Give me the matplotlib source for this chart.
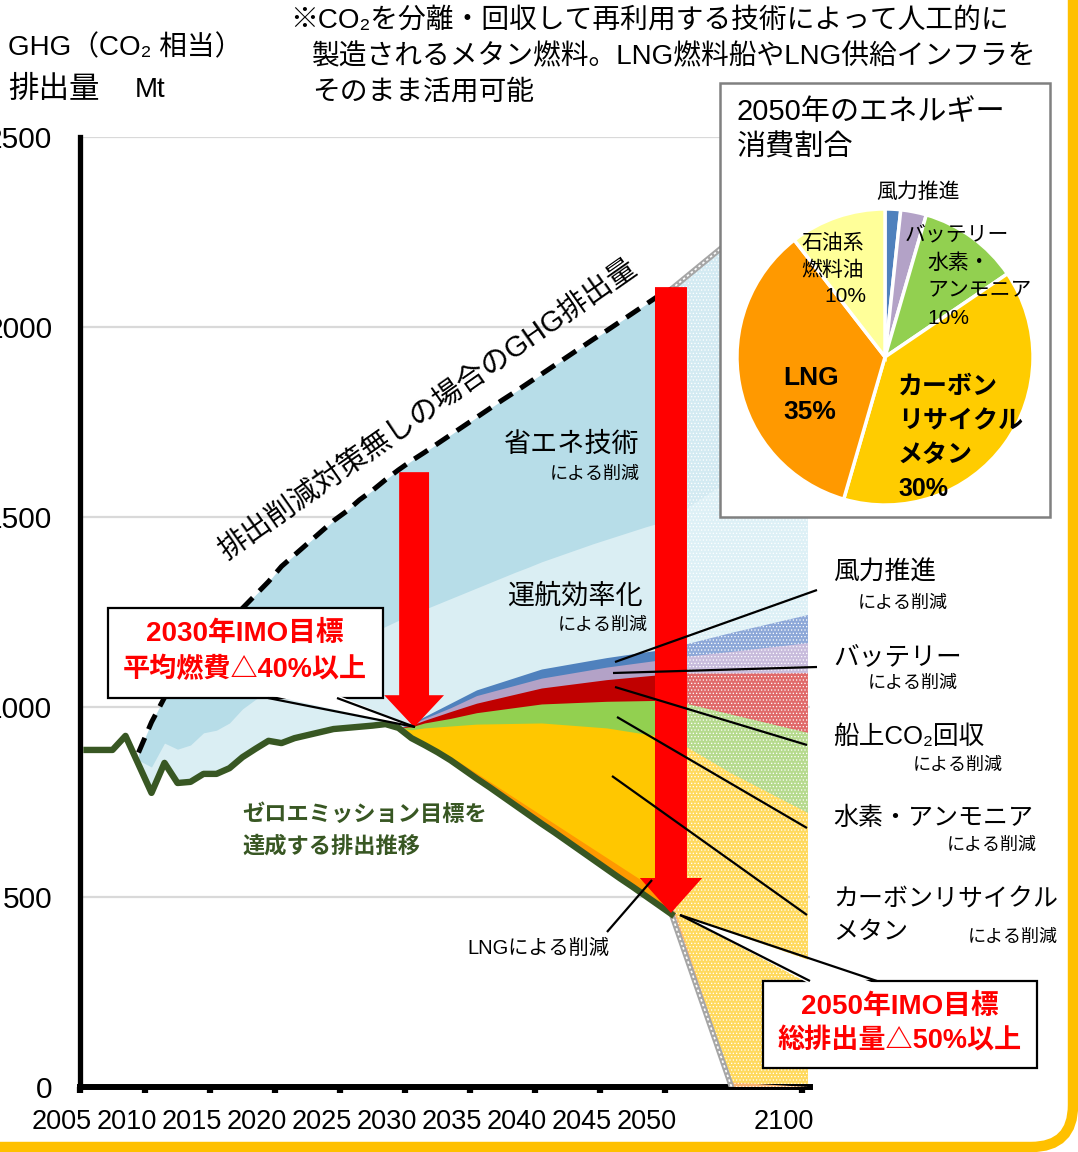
import numpy as np
import matplotlib
matplotlib.use('Agg')
import matplotlib.pyplot as plt
from matplotlib.lines import Line2D
from matplotlib.patches import Rectangle, Polygon, FancyArrow, FancyBboxPatch
from matplotlib.transforms import ScaledTranslation, IdentityTransform

W, H = 1078, 1152
MIX = ['Liberation Sans', 'Noto Sans CJK JP', 'DejaVu Sans']
plt.rcParams['font.family'] = MIX
plt.rcParams['hatch.linewidth'] = 0.5

# ---- data (GHG, Mt CO2-eq) ----
years = list(range(2005, 2051))
zero_path = [887, 887, 887, 924, 849, 774, 853, 800, 803, 824,
             824, 839, 868, 890, 911, 905, 918, 926, 934, 942,
             945, 948, 951, 955, 945, 918, 900, 881, 860, 836,
             812, 789, 765, 741, 717, 693, 670, 646, 622, 598,
             574, 550, 527, 503, 479, 455]

bau_years = list(range(2009, 2051))
bau = [880, 960, 1025, 1075, 1115, 1155, 1190, 1225, 1260, 1295,
       1330, 1370, 1400, 1430, 1460, 1490, 1515, 1545, 1570, 1598,
       1624, 1648, 1670, 1693, 1716, 1739, 1762, 1785, 1808, 1830,
       1853, 1876, 1899, 1922, 1945, 1968, 1990, 2013, 2036, 2059,
       2082, 2100]
# upper edge of the 運航効率化 band (below it: operations, above it: 省エネ技術)
ops_upper = [860, 842, 905, 889, 900, 932, 939, 958, 995, 1020,
             1042, 1060, 1080, 1100, 1120, 1140, 1160, 1178, 1195, 1212,
             1228, 1243, 1257, 1271, 1285, 1299, 1313, 1327, 1341, 1355,
             1368, 1382, 1394, 1406, 1418, 1430, 1441, 1452, 1463, 1474,
             1484, 1495]

layer_years = [2029, 2030, 2031, 2033, 2035, 2040, 2045, 2050]
wind_upper = [945, 958, 975, 1010, 1045, 1100, 1130, 1155]
bat_upper = [945, 955, 970, 998, 1030, 1076, 1105, 1128]
ccs_upper = [945, 952, 965, 988, 1010, 1050, 1072, 1088]
h2_upper = [945, 948, 958, 970, 985, 1008, 1015, 1018]
cr_upper = [945, 940, 945, 950, 955, 958, 945, 918]
lng_upper = [945, 921, 906, 870, 826, 715, 604, 493]

post_years = [2050, 2072, 2100]
post_zero = [455, 0, 0]
post_lng = [493, 12, 0]
post_cr = [918, 825, 721]
post_h2 = [1018, 980, 932]
post_ccs = [1088, 1088, 1089]
post_bat = [1128, 1145, 1168]
post_wind = [1155, 1195, 1242]
post_ops = [1495, 1600, 1750]
post_bau = [2100, 2230, 2400]

tick_years = [2005, 2010, 2015, 2020, 2025, 2030, 2035, 2040, 2045, 2050, 2100]

pie_share = [1.7, 2.8, 11, 39, 35, 10.5]
pie_colors = ['#4F81BD', '#B3A2C7', '#92D050', '#FFCC00', '#FF9900', '#FFFF99']

C_SAVE, C_OPS = '#B7DDE8', '#DAEEF3'
C_WIND, C_BAT, C_CCS, C_H2, C_CR, C_LNG = '#4F81BD', '#B3A2C7', '#C00000', '#92D050', '#FFC700', '#FF9900'
P_SAVE, P_OPS = '#D3EAF2', '#DDF0F6'
P_WIND, P_BAT, P_CCS, P_H2, P_CR, P_LNG = '#8DA8D8', '#C8BCDC', '#E06A6A', '#B6DA8E', '#FFD95E', '#F9B46E'
C_ZERO = '#385723'


def xpos(yrs):
    # years up to 2050 one per category, after 2050 the axis is compressed
    return np.array([y + 0.5 if y <= 2050 else 2050.5 + (y - 2050) * 0.21 for y in yrs])


def fx(px):
    return px / W


def fy(py):
    return 1 - py / H


fig = plt.figure(figsize=(W / 100, H / 100), dpi=100)


def put(px, py, s, size, ha='left', va='center', **kw):
    kw.setdefault('zorder', 7)
    return fig.text(fx(px), fy(py), s, fontsize=size, ha=ha, va=va, **kw)


def seg(x0, y0, x1, y1, lw=1.6, z=6):
    fig.add_artist(Line2D([fx(x0), fx(x1)], [fy(y0), fy(y1)], transform=fig.transFigure,
                          color='black', lw=lw, zorder=z, solid_capstyle='butt'))


ax = fig.add_axes([fx(80), fy(1087), 730 / W, 950 / H])
ax.set_xlim(2005, 2005 + 730 / 13)
ax.set_ylim(0, 2500)

# pre-2050 bands, painted back to front down to the target path
xb = xpos(bau_years)
zb = np.array(zero_path[4:])
ax.fill_between(xb, bau, zb, color=C_SAVE, lw=0, zorder=1)
ax.fill_between(xb, ops_upper, zb, color=C_OPS, lw=0, zorder=1.1)
xl = xpos(layer_years)
base = [zero_path[years.index(y)] for y in layer_years]
z = 1.2
for upper, col in [(wind_upper, C_WIND), (bat_upper, C_BAT), (ccs_upper, C_CCS),
                   (h2_upper, C_H2), (cr_upper, C_CR), (lng_upper, C_LNG)]:
    ax.fill_between(xl, upper, base, color=col, lw=0, zorder=z)
    z += 0.1

# after 2050: dotted pale bands
xp = xpos(post_years)
for upper, col in [(post_bau, P_SAVE), (post_ops, P_OPS), (post_wind, P_WIND), (post_bat, P_BAT),
                   (post_ccs, P_CCS), (post_h2, P_H2), (post_cr, P_CR), (post_lng, P_LNG)]:
    ax.fill_between(xp, upper, post_zero, facecolor=col, edgecolor='white', hatch='.....',
                    lw=0, zorder=z)
    z += 0.1

ax.plot(xpos(years), zero_path, color=C_ZERO, lw=4.6, zorder=5, solid_joinstyle='round')
ax.plot(xb, bau, color='black', lw=3.6, dashes=(3.2, 1.9), zorder=5)
for yy in (post_zero[:2], post_bau):
    xx = xp[:len(yy)]
    ax.plot(xx, yy, color='#A6A6A6', lw=4, zorder=4.5)
    ax.plot(xx, yy, color='white', lw=1.2, dashes=(1.5, 1.5), zorder=4.6)

ax.add_patch(FancyArrow(2030.7, 1618, 0, 947 - 1618, width=2.3, head_width=4.6, head_length=84,
                        length_includes_head=True, color='#FF0000', lw=0, zorder=6))
ax.add_patch(FancyArrow(2050.46, 2105, 0, 458 - 2105, width=2.46, head_width=4.8, head_length=92,
                        length_includes_head=True, color='#FF0000', lw=0, zorder=6))

ax.set_axisbelow(True)
ax.yaxis.grid(True, color='#D9D9D9', lw=1.6)
ax.set_yticks([0, 500, 1000, 1500, 2000, 2500])
tick_pos = [y if y <= 2050 else xpos([y])[0] - 0.5 for y in tick_years]
ax.set_xticks(tick_pos)
ax.set_xticklabels([str(y) for y in tick_years])
ax.tick_params(axis='x', direction='out', length=4, width=4.5, pad=12, labelsize=19.5)
ax.tick_params(axis='y', length=0, pad=20, labelsize=21.5)
shift = ScaledTranslation(-18 / 100, 0, fig.dpi_scale_trans)
for lab in ax.get_xticklabels():
    lab.set_transform(lab.get_transform() + shift)
for s in ('top', 'right'):
    ax.spines[s].set_visible(False)
ax.spines['left'].set_linewidth(3.8)
ax.spines['bottom'].set_linewidth(4.3)

# axis title and note
put(8, 48, 'GHG（CO₂ 相当）', 20)
put(8, 90, '排出量', 22)
put(135, 90, 'Mt', 20)
put(290, 21, '※CO₂を分離・回収して再利用する技術によって人工的に', 20)
put(312, 57, '製造されるメタン燃料。LNG燃料船やLNG供給インフラを', 20)
put(312, 93, 'そのまま活用可能', 20)

# labels inside the plot
fig.text(fx(428), fy(410), '排出削減対策無しの場合のGHG排出量', rotation=35, rotation_mode='anchor',
         ha='center', va='center', fontsize=21, zorder=7)
put(640, 445, '省エネ技術', 19.5, ha='right')
put(640, 474, 'による削減', 13, ha='right')
put(643, 597, '運航効率化', 19.5, ha='right')
put(648, 625, 'による削減', 13, ha='right')
put(242, 815, 'ゼロエミッション目標を', 16, weight='bold', color=C_ZERO)
put(242, 847, '達成する排出推移', 16, weight='bold', color=C_ZERO)
put(467, 948, 'LNGによる削減', 14.5)

# right side labels and leaders
put(833, 573, '風力推進', 18.5)
put(948, 603, 'による削減', 13, ha='right')
put(833, 657, 'バッテリー', 18.5)
put(958, 683, 'による削減', 13, ha='right')
put(833, 737, '船上CO₂回収', 18.5)
put(1003, 765, 'による削減', 13, ha='right')
put(833, 818, '水素・アンモニア', 18)
put(1037, 845, 'による削減', 13, ha='right')
put(833, 900, 'カーボンリサイクル', 18)
put(833, 932, 'メタン', 18)
put(1058, 937, 'による削減', 13, ha='right')
seg(615, 662, 817, 590)
seg(613, 673, 817, 667)
seg(615, 687, 807, 745)
seg(617, 717, 807, 828)
seg(612, 776, 807, 915)
seg(652, 880, 607, 932)


def callout(x0, y0, x1, y1, b0, b1, by, tip, inner):
    fig.add_artist(Rectangle((fx(x0), fy(y1)), fx(x1) - fx(x0), fy(y0) - fy(y1), transform=fig.transFigure,
                             facecolor='white', edgecolor='black', lw=1.6, zorder=5))
    fig.add_artist(Polygon([(fx(b0), fy(inner)), (fx(b1), fy(inner)), (fx(tip[0]), fy(tip[1]))],
                           closed=True, transform=fig.transFigure, facecolor='white', lw=0, zorder=5.1))
    seg(b0, by, tip[0], tip[1], lw=1.6, z=5.2)
    seg(b1, by, tip[0], tip[1], lw=1.6, z=5.2)


callout(108, 608, 383, 698, 268, 337, 698, (415, 727), 695)
put(245, 634, '2030年IMO目標', 20, ha='center', weight='bold', color='#FF0000')
put(245, 670, '平均燃費△40%以上', 19.5, ha='center', weight='bold', color='#FF0000')
callout(763, 981, 1037, 1068, 810, 877, 981, (680, 915), 984)
put(900, 1007, '2050年IMO目標', 20, ha='center', weight='bold', color='#FF0000')
put(900, 1042, '総排出量△50%以上', 19.5, ha='center', weight='bold', color='#FF0000')

# 2050 energy mix inset
fig.add_artist(Rectangle((fx(720), fy(517)), fx(1050) - fx(720), fy(83) - fy(517), transform=fig.transFigure,
                         facecolor='white', edgecolor='#808080', lw=1.8, zorder=3.5))
axp = fig.add_axes([fx(885 - 151), fy(357 + 151), 302 / W, 302 / H], zorder=4)
axp.pie(pie_share, colors=pie_colors, startangle=90, counterclock=False,
        wedgeprops=dict(edgecolor='white', linewidth=2.5))
axp.set_xlim(-1.02, 1.02)
axp.set_ylim(-1.02, 1.02)
axp.set_axis_off()
put(737, 112, '2050年のエネルギー', 21)
put(737, 148, '消費割合', 21)
put(918, 192, '風力推進', 15, ha='center')
put(957, 235, 'バッテリー', 15, ha='center')
put(927, 263, '水素・', 15)
put(927, 290, 'アンモニア', 15)
put(927, 318, '10%', 15)
put(833, 243, '石油系', 15, ha='center')
put(833, 270, '燃料油', 15, ha='center')
put(845, 297, '10%', 15, ha='center')
put(783, 378, 'LNG', 19, weight='bold')
put(783, 412, '35%', 19, weight='bold')
put(898, 387, 'カーボン', 18, weight='bold')
put(898, 421, 'リサイクル', 18, weight='bold')
put(898, 455, 'メタン', 18, weight='bold')
put(898, 489, '30%', 18, weight='bold')

# yellow slide frame at the right edge
fig.add_artist(FancyBboxPatch((-200, 5), 1273, 1400, boxstyle='round,pad=0,rounding_size=42',
                              transform=IdentityTransform(), fill=False, edgecolor='#FFC000',
                              lw=7.5, zorder=8))

fig.savefig('out.png', dpi=100)
